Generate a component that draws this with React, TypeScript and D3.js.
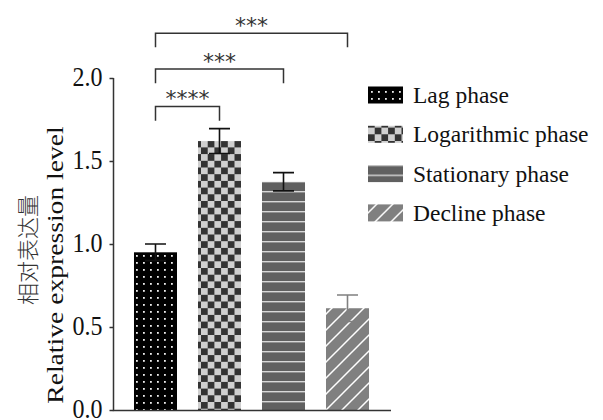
import React, { useEffect, useRef } from 'react';
import * as d3 from 'd3';

// phases and their relative expression (mean, sd)
const phases = ['Lag phase', 'Logarithmic phase', 'Stationary phase', 'Decline phase'];
const means = [0.95, 1.62, 1.375, 0.613];
const errors = [0.05, 0.075, 0.055, 0.08];
const yTicks = [0, 0.5, 1.0, 1.5, 2.0];

// significance brackets: [from, to, label, level]
const brackets: [number, number, string, number][] = [
  [0, 1, '****', 1.828],
  [0, 2, '***', 2.054],
  [0, 3, '***', 2.27],
];

const patternIds = ['pDots', 'pChecker', 'pStripes', 'pHatch'];
const errColors = ['#111', '#111', '#111', '#808080'];

const W = 603;
const H = 420;

const App: React.FC = () => {
  const svgRef = useRef<SVGSVGElement | null>(null);

  useEffect(() => {
    if (!svgRef.current) return;
    const svg = d3.select(svgRef.current);
    svg.selectAll('*').remove();

    const serif = '"Liberation Serif", "Times New Roman", serif';
    const axisColor = '#333';

    const x = d3.scaleBand<string>()
      .domain(phases)
      .range([113, 390])
      .paddingInner(0.328)
      .paddingOuter(0.328);
    const y = d3.scaleLinear().domain([0, 2]).range([410, 78]);

    // fill patterns
    const defs = svg.append('defs');

    const dots = defs.append('pattern').attr('id', 'pDots')
      .attr('patternUnits', 'userSpaceOnUse').attr('width', 7).attr('height', 7);
    dots.append('rect').attr('width', 7).attr('height', 7).attr('fill', '#000');
    dots.append('rect').attr('x', 3).attr('y', 3).attr('width', 1.8).attr('height', 1.8).attr('fill', '#eee');

    const checker = defs.append('pattern').attr('id', 'pChecker')
      .attr('patternUnits', 'userSpaceOnUse').attr('width', 13.4).attr('height', 13.4);
    checker.append('rect').attr('width', 13.4).attr('height', 13.4).attr('fill', '#cfcfcf');
    checker.append('rect').attr('width', 6.7).attr('height', 6.7).attr('fill', '#333');
    checker.append('rect').attr('x', 6.7).attr('y', 6.7).attr('width', 6.7).attr('height', 6.7).attr('fill', '#333');

    const stripes = defs.append('pattern').attr('id', 'pStripes')
      .attr('patternUnits', 'userSpaceOnUse').attr('width', 10).attr('height', 10);
    stripes.append('rect').attr('width', 10).attr('height', 10).attr('fill', '#606060');
    stripes.append('rect').attr('y', 1).attr('width', 10).attr('height', 1.4).attr('fill', '#d8d8d8');

    const hatch = defs.append('pattern').attr('id', 'pHatch')
      .attr('patternUnits', 'userSpaceOnUse').attr('width', 16).attr('height', 16);
    hatch.append('rect').attr('width', 16).attr('height', 16).attr('fill', '#808080');
    hatch.append('path')
      .attr('d', 'M-4,4 L4,-4 M0,16 L16,0 M12,20 L20,12')
      .attr('stroke', '#fff').attr('stroke-width', 1.5);

    // bars
    svg.append('g').selectAll('rect')
      .data(means)
      .enter()
      .append('rect')
      .attr('x', (_, i) => x(phases[i])!)
      .attr('y', d => y(d))
      .attr('width', x.bandwidth())
      .attr('height', d => y(0) - y(d))
      .attr('fill', (_, i) => `url(#${patternIds[i]})`);

    // error bars
    const capW = 10.5;
    svg.append('g').selectAll('path')
      .data(means)
      .enter()
      .append('path')
      .attr('stroke', (_, i) => errColors[i])
      .attr('stroke-width', 1.6)
      .attr('fill', 'none')
      .attr('d', (d, i) => {
        const cx = x(phases[i])! + x.bandwidth() / 2;
        const hi = y(d + errors[i]);
        const lo = y(d - errors[i]);
        return `M${cx},${lo}V${hi}M${cx - capW},${hi}H${cx + capW}M${cx - capW},${lo}H${cx + capW}`;
      });

    // axes
    const yAxis = svg.append('g')
      .attr('transform', 'translate(113.5,0)')
      .call(d3.axisLeft(y).tickValues(yTicks).tickFormat(d3.format('.1f')).tickSize(4).tickSizeOuter(0).tickPadding(7));
    yAxis.select('.domain').remove();
    yAxis.selectAll('line').attr('stroke', axisColor).attr('stroke-width', 1.5);
    yAxis.selectAll('text')
      .attr('font-family', serif)
      .attr('font-size', 24)
      .attr('fill', '#111')
      .attr('dy', null)
      .attr('dominant-baseline', 'central')
      .attr('transform', 'translate(0,-1.5) scale(1,1.15)');

    svg.append('path')
      .attr('d', `M113.5,${y(2)}V${y(0) + 0.5}H391`)
      .attr('fill', 'none')
      .attr('stroke', axisColor)
      .attr('stroke-width', 1.5);

    // y titles
    svg.append('text')
      .attr('transform', 'translate(55,265) rotate(-90) scale(1.15,1)')
      .attr('text-anchor', 'middle')
      .attr('dominant-baseline', 'central')
      .attr('font-family', serif)
      .attr('font-size', 24)
      .attr('fill', '#111')
      .text('Relative expression level');
    svg.append('text')
      .attr('transform', 'translate(26,250) rotate(-90)')
      .attr('text-anchor', 'middle')
      .attr('dominant-baseline', 'central')
      .attr('font-family', '"Noto Sans CJK SC", sans-serif')
      .attr('font-weight', 300)
      .attr('font-size', 22)
      .attr('fill', '#333')
      .text('相对表达量');

    // significance brackets
    const leg = 0.085;
    const br = svg.append('g');
    brackets.forEach(([a, b, label, lvl]) => {
      const x1 = x(phases[a])! + x.bandwidth() / 2;
      const x2 = x(phases[b])! + x.bandwidth() / 2;
      br.append('path')
        .attr('d', `M${x1},${y(lvl - leg)}V${y(lvl)}H${x2}V${y(lvl - leg)}`)
        .attr('fill', 'none')
        .attr('stroke', axisColor)
        .attr('stroke-width', 1.5);
      br.append('text')
        .attr('x', (x1 + x2) / 2)
        .attr('y', y(lvl) - 0.5)
        .attr('text-anchor', 'middle')
        .attr('font-family', '"DejaVu Sans", sans-serif')
        .attr('font-size', 22)
        .attr('fill', '#333')
        .text(label);
    });

    // legend
    const lg = svg.append('g').attr('transform', 'translate(368,95)');
    const rowGap = 39.3;
    phases.forEach((p, i) => {
      const row = lg.append('g').attr('transform', `translate(0,${i * rowGap})`);
      row.append('rect')
        .attr('x', 0).attr('y', -8.5)
        .attr('width', 35).attr('height', 17)
        .attr('fill', `url(#${patternIds[i]})`);
      row.append('text')
        .attr('x', 45)
        .attr('y', 8)
        .attr('font-family', serif)
        .attr('font-size', 23.5)
        .attr('fill', '#111')
        .text(p);
    });
  }, []);

  return (
    <svg
      ref={svgRef}
      width={W}
      height={H}
      style={{ position: 'absolute', left: 0, top: 0, background: '#fff' }}
    />
  );
};

export default App;
